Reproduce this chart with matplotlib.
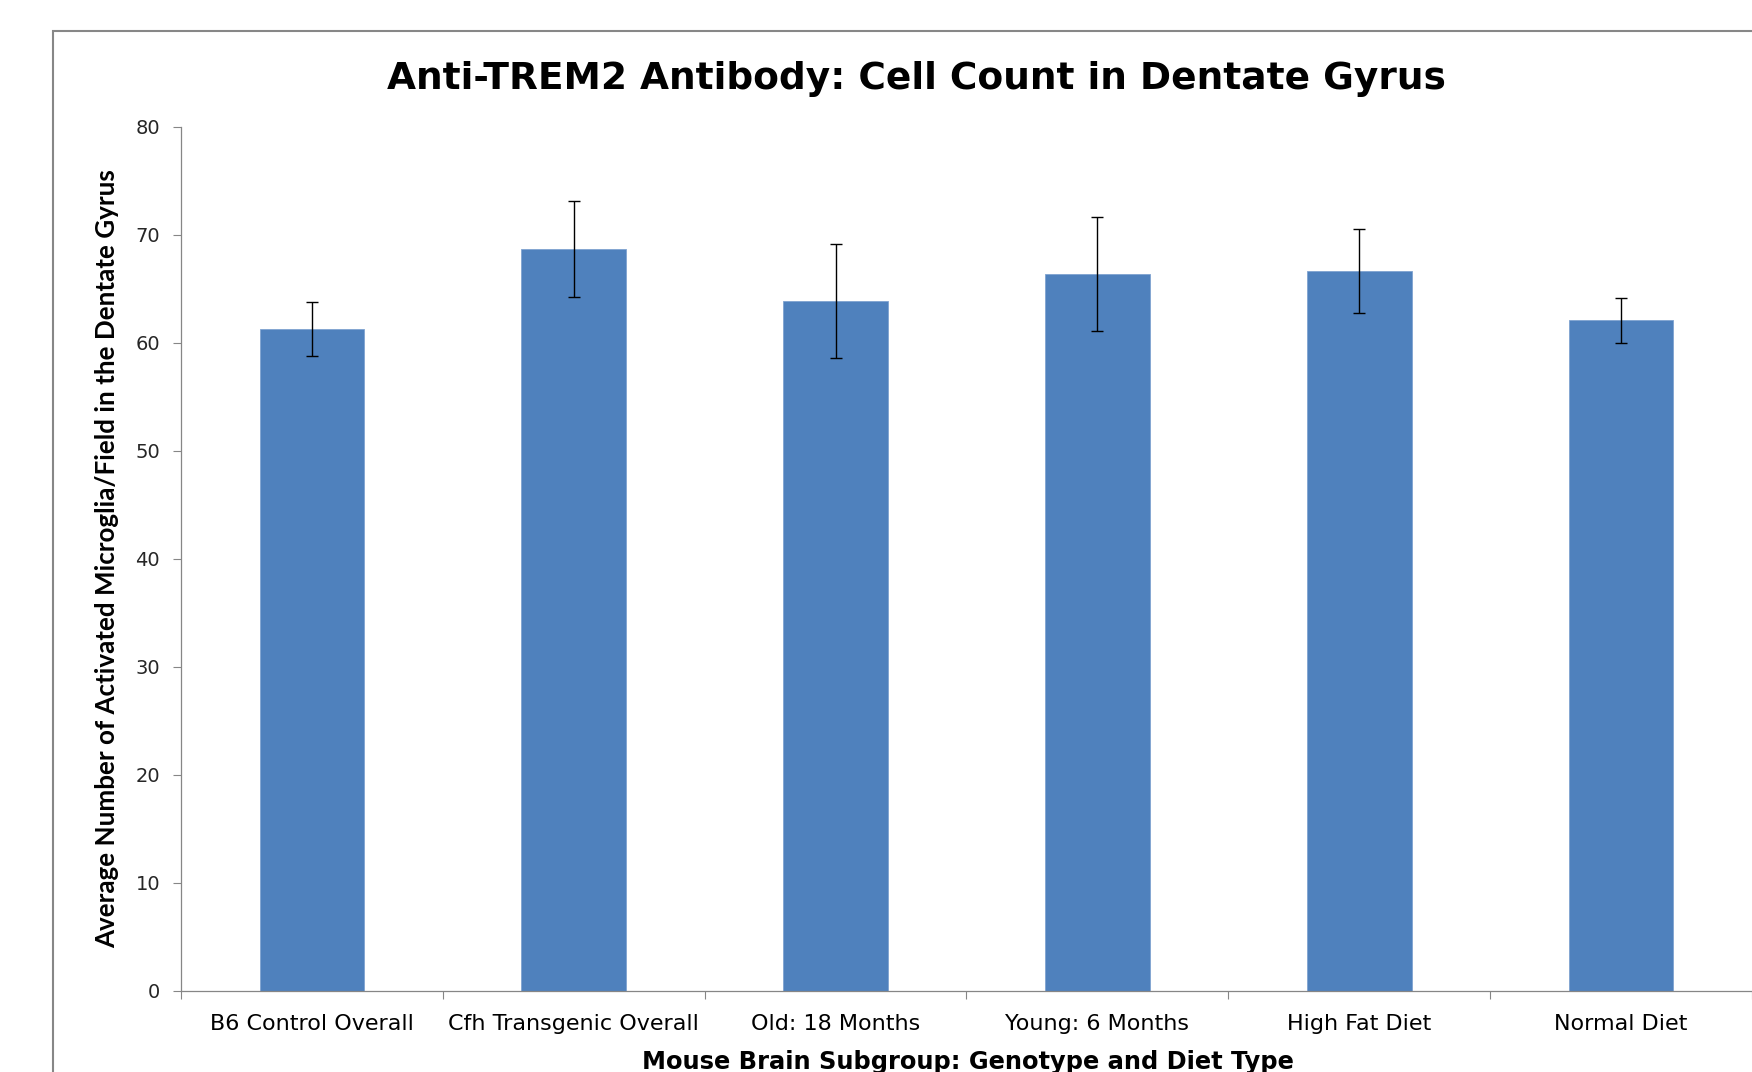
import numpy as np
import matplotlib.pyplot as plt
from matplotlib.patches import Rectangle

# data
groups = ['B6 Control Overall', 'Cfh Transgenic Overall', 'Old: 18 Months',
          'Young: 6 Months', 'High Fat Diet', 'Normal Diet']
means = [61.3, 68.7, 63.9, 66.4, 66.7, 62.1]
errors = [2.5, 4.45, 5.25, 5.3, 3.9, 2.1]
yticks = [0, 10, 20, 30, 40, 50, 60, 70, 80]

title = 'Anti-TREM2 Antibody: Cell Count in Dentate Gyrus'
xlabel = 'Mouse Brain Subgroup: Genotype and Diet Type'
ylabel = 'Average Number of Activated Microglia/Field in the Dentate Gyrus'

BAR = '#4F81BD'
GREY = '#868686'

fig = plt.figure(figsize=(17.52, 10.72), dpi=100)
W, H = 1752, 1072

# plot area in pixels of the reference: x 181..1752, y 127 (80) .. 991 (0)
ax = fig.add_axes([181 / W, 1 - 991 / H, 1 - 181 / W, (991 - 127) / H])

x = np.arange(len(groups))
ax.bar(x, means, width=0.4, color=BAR, edgecolor='#7FA3D0', linewidth=0.6, zorder=2)
ax.errorbar(x, means, yerr=errors, fmt='none', ecolor='black',
            elinewidth=1.0, capsize=4.3, capthick=1.0, zorder=3)

ax.set_xlim(-0.5, len(groups) - 0.5)
ax.set_ylim(0, 80)
ax.set_yticks(yticks)
ax.set_yticklabels([str(v) for v in yticks], fontfamily='DejaVu Sans',
                   fontsize=14, color='#262626')

ax.set_xticks(x)
ax.set_xticklabels(groups, fontfamily='DejaVu Sans', fontsize=16, color='black')
ax.set_xticks(np.arange(-0.5, len(groups)), minor=True)
ax.tick_params(axis='x', which='major', length=0, pad=16.5)
ax.tick_params(axis='x', which='minor', length=6, width=0.8, color=GREY,
               direction='out')
ax.tick_params(axis='y', length=6, width=0.8, color=GREY, direction='out', pad=9)

for side in ['top', 'right']:
    ax.spines[side].set_visible(False)
for side in ['left', 'bottom']:
    ax.spines[side].set_color(GREY)
    ax.spines[side].set_linewidth(0.9)

fig.text(916 / W, 1 - 89 / H, title, ha='center', va='baseline',
         fontfamily='DejaVu Sans', fontweight='bold', fontsize=27)
fig.text(968 / W, 1 - 1069 / H, xlabel, ha='center', va='baseline',
         fontfamily='DejaVu Sans', fontweight='bold', fontsize=17.4)
fig.text(107 / W, 1 - 559 / H, ylabel, ha='center', va='center', rotation=90,
         fontfamily='Lato', fontweight='bold', fontsize=18.7)

# outer chart border, cut off on the right and bottom
fig.add_artist(Rectangle((53 / W, -0.1), 2, 1 - 31 / H + 0.1,
                         transform=fig.transFigure, fill=False,
                         edgecolor='#878787', linewidth=1.5))

plt.savefig('out.png', dpi=100)
